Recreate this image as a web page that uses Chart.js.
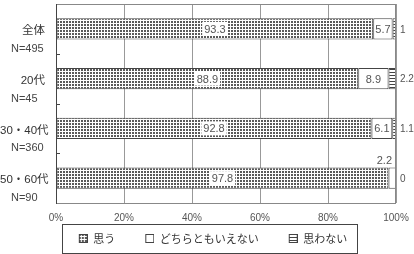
<!DOCTYPE html>
<html>
<head>
<meta charset="utf-8">
<script src="https://cdn.jsdelivr.net/npm/chart.js@4.4.1/dist/chart.umd.min.js"></script>
<style>
  html, body { margin: 0; padding: 0; background: #fff; }
  #wrap { width: 414px; height: 254px; }
</style>
</head>
<body>
<div id="wrap"><canvas id="chart" width="414" height="254"></canvas></div>
<script>
// Data
const categories = ['全体', '20代', '30・40代', '50・60代'];
const sampleSizes = ['N=495', 'N=45', 'N=360', 'N=90'];
const seriesNames = ['思う', 'どちらともいえない', '思わない'];
const agree = [93.3, 88.9, 92.8, 97.8];
const neutral = [5.7, 8.9, 6.1, 2.2];
const disagree = [1, 2.2, 1.1, 0];
const xTicks = [0, 20, 40, 60, 80, 100];

const JP = '"Noto Sans CJK JP", "Noto Sans", sans-serif';
const NUM = '"Liberation Sans", Arial, sans-serif';
const MIX = '"Liberation Sans", "Noto Sans CJK JP", sans-serif';

// legend padding is 0 so the legend stays short; the gap between items comes from the icons
const ICON_GAP = 30;

// Fill patterns
function makePattern(size, draw) {
  const c = document.createElement('canvas');
  c.width = size[0];
  c.height = size[1];
  const g = c.getContext('2d');
  g.fillStyle = '#fff';
  g.fillRect(0, 0, c.width, c.height);
  draw(g);
  return c.getContext('2d').createPattern(c, 'repeat');
}
const checkPattern = makePattern([3, 3], function(g) {
  g.fillStyle = '#5a5a5a';
  g.fillRect(0, 0, 2, 2);
});
const stripePattern = makePattern([1, 3], function(g) {
  g.fillStyle = '#444';
  g.fillRect(0, 0, 1, 1);
});
const fills = [checkPattern, '#fff', stripePattern];

// Legend icons: a 9px box with some blank room on its left
function makeIcon(fill) {
  const c = document.createElement('canvas');
  c.width = ICON_GAP + 9;
  c.height = 9;
  const g = c.getContext('2d');
  g.fillStyle = fill;
  g.fillRect(ICON_GAP, 0, 9, 9);
  g.strokeStyle = '#444';
  g.lineWidth = 1;
  g.strokeRect(ICON_GAP + 0.5, 0.5, 8, 8);
  return c;
}
const icons = fills.map(makeIcon);

// Frame, category ticks and y labels
const framePlugin = {
  id: 'frame',
  afterDraw(chart) {
    const ctx = chart.ctx;
    const a = chart.chartArea;
    const y = chart.scales.y;
    ctx.save();
    ctx.strokeStyle = '#888';
    ctx.lineWidth = 1;
    ctx.strokeRect(a.left + 0.5, a.top + 0.5, a.right - a.left - 1, a.bottom - a.top);
    ctx.strokeStyle = '#444';
    ctx.beginPath();
    ctx.moveTo(a.left + 0.5, a.top);
    ctx.lineTo(a.left + 0.5, a.bottom + 1);
    // small ticks between categories
    for (let i = 0; i < categories.length - 1; i++) {
      const yy = Math.round((y.getPixelForValue(i) + y.getPixelForValue(i + 1)) / 2) + 0.5;
      ctx.moveTo(a.left, yy);
      ctx.lineTo(a.left + 4, yy);
    }
    ctx.stroke();

    // category labels
    categories.forEach(function(cat, i) {
      const cy = y.getPixelForValue(i);
      ctx.fillStyle = '#333';
      ctx.font = '11.5px ' + MIX;
      ctx.textAlign = 'right';
      ctx.textBaseline = 'middle';
      const w = ctx.measureText(cat).width;
      ctx.fillText(cat, Math.max(45, w), cy + 2);
      ctx.fillStyle = '#444';
      ctx.font = '11px ' + NUM;
      ctx.textAlign = 'left';
      ctx.fillText(sampleSizes[i], 11, cy + 20);
    });

    // legend frame
    const boxes = chart.legend.legendHitBoxes;
    if (boxes && boxes.length) {
      const left = Math.min.apply(null, boxes.map(b => b.left)) + ICON_GAP - 17;
      const right = Math.max.apply(null, boxes.map(b => b.left + b.width)) + 10;
      const top = boxes[0].top - 9;
      const bottom = boxes[0].top + boxes[0].height + 9;
      ctx.strokeStyle = '#444';
      ctx.strokeRect(Math.round(left) + 0.5, Math.round(top) + 0.5, Math.round(right - left), Math.round(bottom - top));
    }
    ctx.restore();
  }
};

// Value labels on the bars
const valuePlugin = {
  id: 'values',
  afterDatasetsDraw(chart) {
    const ctx = chart.ctx;
    const a = chart.chartArea;
    ctx.save();
    ctx.textBaseline = 'middle';
    chart.data.datasets.forEach(function(ds, di) {
      const meta = chart.getDatasetMeta(di);
      meta.data.forEach(function(bar, i) {
        const v = ds.data[i];
        const text = String(v);
        ctx.font = '11px ' + NUM;
        const tw = ctx.measureText(text).width;
        if (di === 0) {
          const cx = (bar.base + bar.x) / 2;
          ctx.fillStyle = '#fff';
          ctx.fillRect(cx - tw / 2 - 2, bar.y - 7, tw + 4, 14);
          ctx.fillStyle = '#555';
          ctx.textAlign = 'center';
          ctx.fillText(text, cx, bar.y + 1);
        } else if (di === 1) {
          ctx.fillStyle = '#555';
          if (bar.x - bar.base < 12) {
            ctx.textAlign = 'right';
            ctx.fillText(text, bar.x - 4, bar.y - bar.height / 2 - 6);
          } else {
            ctx.textAlign = 'center';
            ctx.fillText(text, (bar.base + bar.x) / 2, bar.y + 1);
          }
        } else {
          // last series sits outside the plot on the right
          ctx.font = '10px ' + NUM;
          ctx.fillStyle = '#555';
          ctx.textAlign = 'left';
          ctx.fillText(text, a.right + 4, bar.y + 1);
        }
      });
    });
    ctx.restore();
  }
};

const barStyle = {
  borderColor: '#444',
  borderWidth: 1,
  borderSkipped: false,
  barPercentage: 0.43,
  categoryPercentage: 1
};

new Chart(document.getElementById('chart'), {
  type: 'bar',
  data: {
    labels: categories,
    datasets: [
      Object.assign({ label: seriesNames[0], data: agree, backgroundColor: fills[0] }, barStyle),
      Object.assign({ label: seriesNames[1], data: neutral, backgroundColor: fills[1] }, barStyle),
      Object.assign({ label: seriesNames[2], data: disagree, backgroundColor: fills[2] }, barStyle)
    ]
  },
  options: {
    indexAxis: 'y',
    responsive: false,
    animation: false,
    devicePixelRatio: 1,
    layout: { padding: { left: 0, right: 18, top: 4, bottom: 0 } },
    plugins: {
      tooltip: { enabled: false },
      legend: {
        position: 'bottom',
        labels: {
          font: { family: JP, size: 11 },
          color: '#333',
          usePointStyle: true,
          pointStyleWidth: ICON_GAP + 9,
          boxHeight: 9,
          padding: 0,
          generateLabels(chart) {
            const items = Chart.defaults.plugins.legend.labels.generateLabels(chart);
            items.forEach((item, i) => { item.pointStyle = icons[i]; });
            return items;
          }
        }
      }
    },
    scales: {
      x: {
        stacked: true,
        min: 0,
        max: 100,
        afterBuildTicks(scale) {
          scale.ticks = xTicks.map(v => ({ value: v }));
        },
        afterFit(scale) {
          // let "100%" hang into the right padding instead of shrinking the plot
          scale.paddingLeft = 0;
          scale.paddingRight = 0;
        },
        grid: { color: '#999', drawTicks: false },
        border: { display: false },
        ticks: {
          padding: 7,
          color: '#555',
          font: { family: NUM, size: 10, lineHeight: 1.6 },
          callback: v => v + '%'
        }
      },
      y: {
        stacked: true,
        grid: { display: false },
        border: { display: false },
        ticks: { display: false },
        afterFit(scale) {
          scale.width = 56;
        }
      }
    }
  },
  plugins: [framePlugin, valuePlugin]
});
</script>
</body>
</html>
